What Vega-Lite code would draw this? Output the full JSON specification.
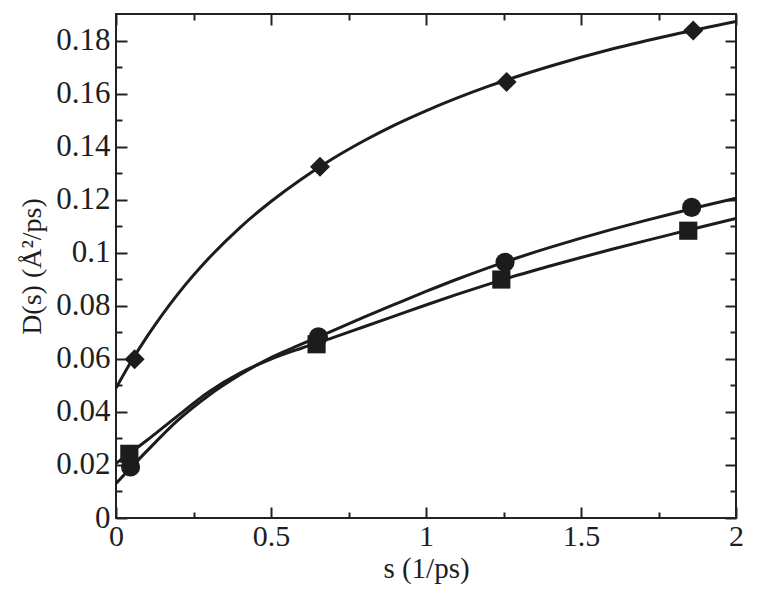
{
  "$schema": "https://vega.github.io/schema/vega-lite/v6.json",
  "width": 620,
  "height": 504,
  "autosize": "none",
  "padding": {"left": 116, "top": 14, "right": 23, "bottom": 78},
  "background": "white",
  "config": {
    "view": {"stroke": "#222222", "strokeWidth": 2},
    "axis": {
      "labelFont": "Liberation Serif",
      "titleFont": "Liberation Serif",
      "labelFontSize": 30,
      "titleFontSize": 29,
      "titleFontWeight": "normal",
      "labelColor": "#1e1e1e",
      "titleColor": "#1e1e1e",
      "tickColor": "#222222",
      "tickWidth": 2,
      "domain": false,
      "grid": false
    }
  },
  "datasets": {
    "curves": [
      {"series": "A", "s": 0, "D": 0.049},
      {"series": "A", "s": 0.05, "D": 0.0592},
      {"series": "A", "s": 0.1, "D": 0.0684},
      {"series": "A", "s": 0.15, "D": 0.0768},
      {"series": "A", "s": 0.2, "D": 0.0845},
      {"series": "A", "s": 0.3, "D": 0.098},
      {"series": "A", "s": 0.4, "D": 0.1095},
      {"series": "A", "s": 0.5, "D": 0.1193},
      {"series": "A", "s": 0.6, "D": 0.1279},
      {"series": "A", "s": 0.7, "D": 0.1355},
      {"series": "A", "s": 0.8, "D": 0.1422},
      {"series": "A", "s": 0.9, "D": 0.1482},
      {"series": "A", "s": 1.0, "D": 0.1535},
      {"series": "A", "s": 1.2, "D": 0.1627},
      {"series": "A", "s": 1.4, "D": 0.1703},
      {"series": "A", "s": 1.6, "D": 0.1768},
      {"series": "A", "s": 1.8, "D": 0.1823},
      {"series": "A", "s": 2.0, "D": 0.1872},
      {"series": "B", "s": 0, "D": 0.013},
      {"series": "B", "s": 0.05, "D": 0.0192},
      {"series": "B", "s": 0.1, "D": 0.0253},
      {"series": "B", "s": 0.2, "D": 0.0369},
      {"series": "B", "s": 0.3, "D": 0.0463},
      {"series": "B", "s": 0.4, "D": 0.054},
      {"series": "B", "s": 0.5, "D": 0.0605},
      {"series": "B", "s": 0.6, "D": 0.0656},
      {"series": "B", "s": 0.7, "D": 0.0706},
      {"series": "B", "s": 0.8, "D": 0.0757},
      {"series": "B", "s": 0.9, "D": 0.0806},
      {"series": "B", "s": 1.0, "D": 0.0854},
      {"series": "B", "s": 1.1, "D": 0.09},
      {"series": "B", "s": 1.2, "D": 0.0943},
      {"series": "B", "s": 1.3, "D": 0.0983},
      {"series": "B", "s": 1.4, "D": 0.102},
      {"series": "B", "s": 1.5, "D": 0.1055},
      {"series": "B", "s": 1.6, "D": 0.1088},
      {"series": "B", "s": 1.7, "D": 0.1119},
      {"series": "B", "s": 1.8, "D": 0.1149},
      {"series": "B", "s": 1.9, "D": 0.1178},
      {"series": "B", "s": 2.0, "D": 0.1206},
      {"series": "C", "s": 0, "D": 0.0206},
      {"series": "C", "s": 0.05, "D": 0.0249},
      {"series": "C", "s": 0.1, "D": 0.0293},
      {"series": "C", "s": 0.2, "D": 0.0386},
      {"series": "C", "s": 0.3, "D": 0.0476},
      {"series": "C", "s": 0.4, "D": 0.0546},
      {"series": "C", "s": 0.5, "D": 0.0599},
      {"series": "C", "s": 0.6, "D": 0.0641},
      {"series": "C", "s": 0.7, "D": 0.068},
      {"series": "C", "s": 0.8, "D": 0.0721},
      {"series": "C", "s": 0.9, "D": 0.0762},
      {"series": "C", "s": 1.0, "D": 0.0803},
      {"series": "C", "s": 1.1, "D": 0.0843},
      {"series": "C", "s": 1.2, "D": 0.0881},
      {"series": "C", "s": 1.3, "D": 0.0917},
      {"series": "C", "s": 1.4, "D": 0.095},
      {"series": "C", "s": 1.5, "D": 0.0982},
      {"series": "C", "s": 1.6, "D": 0.1013},
      {"series": "C", "s": 1.7, "D": 0.1043},
      {"series": "C", "s": 1.8, "D": 0.1072},
      {"series": "C", "s": 1.9, "D": 0.1101},
      {"series": "C", "s": 2.0, "D": 0.1129}
    ],
    "points": [
      {"series": "A", "s": 0.06, "D": 0.0598},
      {"series": "A", "s": 0.658, "D": 0.1324},
      {"series": "A", "s": 1.26, "D": 0.1644},
      {"series": "A", "s": 1.862, "D": 0.1838},
      {"series": "B", "s": 0.047, "D": 0.0192},
      {"series": "B", "s": 0.653, "D": 0.0683},
      {"series": "B", "s": 1.255, "D": 0.0964},
      {"series": "B", "s": 1.857, "D": 0.1171},
      {"series": "C", "s": 0.043, "D": 0.0242},
      {"series": "C", "s": 0.647, "D": 0.0655},
      {"series": "C", "s": 1.243, "D": 0.0899},
      {"series": "C", "s": 1.846, "D": 0.1083}
    ]
  },
  "resolve": {"axis": {"x": "independent", "y": "independent"}},
  "layer": [
    {
      "data": {"name": "curves"},
      "mark": {"type": "line", "interpolate": "monotone", "strokeWidth": 3, "color": "#1c1c1c", "clip": true},
      "encoding": {
        "x": {
          "field": "s", "type": "quantitative",
          "scale": {"domain": [0, 2], "nice": false, "zero": false},
          "axis": {"orient": "bottom", "values": [0, 0.5, 1, 1.5, 2], "format": "~g", "offset": -11, "tickSize": 11, "labelPadding": 3, "labelFontSize": 30, "labelFont": "Liberation Serif", "title": "s (1/ps)", "titleFontSize": 29, "titlePadding": 3, "labelFlush": false}
        },
        "y": {
          "field": "D", "type": "quantitative",
          "scale": {"domain": [0, 0.19], "nice": false, "zero": false},
          "axis": {"orient": "left", "values": [0, 0.02, 0.04, 0.06, 0.08, 0.1, 0.12, 0.14, 0.16, 0.18], "format": "~g", "offset": -11, "tickSize": 11, "labelPadding": 6, "labelFontSize": 31, "labelFont": "Liberation Serif", "title": "D(s) (Å²/ps)", "titleFontSize": 28, "titlePadding": 9, "labelFlush": false}
        },
        "detail": {"field": "series", "type": "nominal"}
      }
    },
    {
      "data": {"name": "points"},
      "mark": {"type": "point", "filled": true, "opacity": 1, "color": "#1c1c1c"},
      "encoding": {
        "x": {
          "field": "s", "type": "quantitative",
          "axis": {"orient": "bottom", "values": [0.25, 0.75, 1.25, 1.75], "labels": false, "offset": -6, "tickSize": 6, "title": null}
        },
        "y": {
          "field": "D", "type": "quantitative",
          "axis": {"orient": "left", "values": [0.01, 0.03, 0.05, 0.07, 0.09, 0.11, 0.13, 0.15, 0.17], "labels": false, "offset": -6, "tickSize": 6, "title": null}
        },
        "shape": {"field": "series", "type": "nominal", "scale": {"domain": ["A", "B", "C"], "range": ["diamond", "circle", "square"]}, "legend": null},
        "size": {"field": "series", "type": "nominal", "scale": {"domain": ["A", "B", "C"], "range": [400, 330, 250]}, "legend": null}
      }
    },
    {
      "data": {"name": "points"},
      "mark": {"type": "point", "opacity": 0},
      "encoding": {
        "x": {
          "field": "s", "type": "quantitative",
          "axis": {"orient": "top", "values": [0, 0.5, 1, 1.5, 2], "labels": false, "offset": -11, "tickSize": 11, "title": null}
        },
        "y": {
          "field": "D", "type": "quantitative",
          "axis": {"orient": "right", "values": [0, 0.02, 0.04, 0.06, 0.08, 0.1, 0.12, 0.14, 0.16, 0.18], "labels": false, "offset": -11, "tickSize": 11, "title": null}
        }
      }
    },
    {
      "data": {"name": "points"},
      "mark": {"type": "point", "opacity": 0},
      "encoding": {
        "x": {
          "field": "s", "type": "quantitative",
          "axis": {"orient": "top", "values": [0.25, 0.75, 1.25, 1.75], "labels": false, "offset": -6, "tickSize": 6, "title": null}
        },
        "y": {
          "field": "D", "type": "quantitative",
          "axis": {"orient": "right", "values": [0.01, 0.03, 0.05, 0.07, 0.09, 0.11, 0.13, 0.15, 0.17], "labels": false, "offset": -6, "tickSize": 6, "title": null}
        }
      }
    }
  ]
}
